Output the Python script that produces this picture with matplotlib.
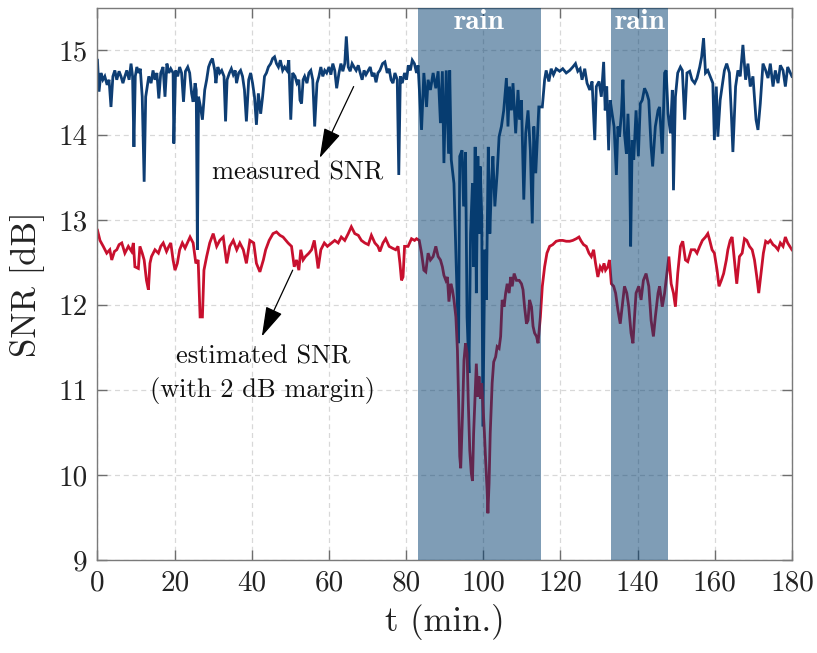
import matplotlib
matplotlib.use("Agg")
import matplotlib.pyplot as plt

# ---- data -------------------------------------------------------------
measured_t = [
    0.0, 0.4, 0.9, 1.4, 1.9, 2.5, 3.0, 3.5, 4.0, 4.5,
    5.0, 5.6, 6.1, 6.6, 7.1, 7.6, 8.2, 8.7, 9.1, 9.45,
    9.8, 10.2, 10.7, 11.1, 11.6, 12.1, 12.5, 12.9, 13.3, 13.9,
    14.4, 14.9, 15.4, 15.9, 16.4, 17.0, 17.5, 18.0, 18.5, 19.0,
    19.6, 19.8, 20.25, 20.8, 21.3, 21.8, 22.3, 22.8, 23.4, 23.9,
    24.4, 24.8, 25.3, 25.6, 25.9, 26.2, 26.7, 27.2, 27.8, 28.3,
    28.8, 29.3, 29.8, 30.4, 30.7, 31.2, 31.7, 32.2, 32.8, 33.2,
    33.6, 34.2, 34.7, 35.2, 35.7, 36.05, 36.6, 37.1, 37.6, 38.1,
    38.6, 39.2, 39.7, 40.2, 40.7, 41.2, 41.7, 42.3, 42.8, 43.3,
    43.8, 44.3, 44.9, 45.4, 45.9, 46.4, 46.9, 47.4, 48.0, 48.5,
    49.1, 49.6, 50.1, 50.6, 51.2, 51.7, 52.2, 52.5, 52.9, 53.3,
    53.7, 54.3, 54.8, 55.3, 55.8, 56.3, 56.9, 57.4, 57.9, 58.4,
    58.9, 59.4, 60.0, 60.5, 61.0, 61.5, 62.0, 62.6, 63.1, 63.6,
    64.1, 64.5, 65.0, 65.5, 66.0, 66.5, 67.05, 67.6, 68.1, 68.6,
    69.1, 69.6, 70.2, 70.7, 71.2, 71.7, 72.2, 72.7,
    73.2, 73.9, 74.5, 75.1, 75.6, 76.1, 76.6, 77.1, 77.7, 78.1,
    78.5, 79.0, 79.6, 80.1, 80.6, 81.1, 81.6, 82.15, 82.7,
    83.1, 84.0, 84.6, 85.3, 85.7, 86.3, 87.0, 87.7, 88.3, 88.9,
    89.4, 89.8, 90.4, 91.0, 91.3, 91.7, 92.4, 93.0, 93.6, 93.9,
    94.5, 94.9, 95.4, 95.8, 96.3, 96.7, 97.2, 97.5, 97.9, 98.2,
    98.6, 98.9, 99.2, 99.6, 99.9, 100.4, 100.8, 101.3, 101.7, 102.1,
    102.5, 103.0, 103.6, 104.1, 104.7, 105.3, 106.0, 106.4, 106.8, 107.3,
    107.7, 108.4, 109.0, 109.4, 109.9, 110.5, 111.0, 111.6, 112.2, 112.7,
    113.1, 113.6, 114.0, 114.4,
    115.3, 115.9, 116.3, 117.0, 117.6, 118.2, 118.9, 119.8, 120.6, 121.5,
    122.4, 123.2, 123.9, 124.5, 125.1, 125.6, 126.3, 126.9, 127.6, 128.2,
    128.9, 129.3, 130.0, 130.6, 131.2, 131.6, 132.0, 132.5, 132.9, 133.4,
    133.9, 134.5, 134.9, 135.3, 135.8, 136.2, 136.6, 137.1, 137.5, 137.9,
    138.2, 138.6, 139.0, 139.6, 140.2, 140.7, 141.2, 141.8, 142.4, 142.9,
    143.5, 143.9, 144.6, 145.3,
    145.7, 146.4, 147.0, 147.4, 147.9, 148.5, 149.0, 149.3, 149.8, 150.4,
    151.1, 151.6, 152.2, 152.8, 153.5, 154.1, 154.8, 155.4, 156.1, 156.6,
    157.1, 157.6, 158.2, 158.8, 159.5, 159.9, 160.4, 160.8, 161.4, 161.9,
    162.5, 163.1, 163.8, 164.3, 164.7, 165.4, 166.0, 166.6, 167.3, 168.0,
    168.6, 169.2, 169.9, 170.7, 171.2, 171.8, 172.5, 173.2, 173.8, 174.4,
    175.1, 175.7, 176.4, 177.0, 177.7, 178.3, 178.9, 180.0,
]
measured_db = [
    14.88, 14.51, 14.73, 14.65, 14.69, 14.59, 14.65, 14.33, 14.69, 14.76,
    14.65, 14.75, 14.69, 14.61, 14.69, 14.76, 14.65, 14.84, 14.69, 13.86,
    14.69, 14.80, 14.73, 14.78, 14.45, 13.45, 14.45, 14.57, 14.69, 14.61,
    14.76, 14.65, 14.73, 14.43, 14.73, 14.80, 14.45, 14.84, 14.73, 14.78,
    14.73, 13.90, 14.76, 14.69, 14.80, 14.73, 14.39, 14.75, 14.80, 14.73,
    14.49, 14.39, 14.61, 14.53, 12.65, 14.45, 14.33, 14.18, 14.53, 14.65,
    14.80, 14.86, 14.90, 14.76, 14.61, 14.80, 14.73, 14.76, 14.69, 14.16,
    14.65, 14.73, 14.78, 14.71, 14.76, 14.61, 14.73, 14.76, 14.69, 14.53,
    14.16, 14.65, 14.73, 14.61, 14.45, 14.12, 14.49, 14.25, 14.45, 14.69,
    14.73, 14.80, 14.84, 14.90, 14.92, 14.84, 14.80, 14.88, 14.76, 14.80,
    14.76, 14.88, 14.18, 14.73, 14.69, 14.61, 14.65, 14.41, 14.37, 14.65,
    14.69, 14.61, 14.73, 14.76, 14.65, 14.10, 14.61, 14.69, 14.80, 14.69,
    14.76, 14.73, 14.80, 14.71, 14.84, 14.76, 14.55, 14.73, 14.84, 14.75,
    14.84, 15.16, 14.80, 14.75, 14.84, 14.80, 14.76, 14.82, 14.73, 14.65,
    14.76, 14.71, 14.76, 14.80, 14.69, 14.73, 14.62, 14.73,
    14.76, 14.84, 14.86, 14.73, 14.78, 14.65, 14.61, 14.73, 14.65, 13.53,
    14.69, 14.61, 14.73, 14.65, 14.82, 14.76, 14.88, 14.84, 14.73,
    14.82, 14.06, 14.73, 14.33, 14.65, 14.53, 14.73, 14.55, 14.75, 14.14,
    14.75, 13.67, 14.76, 13.78, 14.76, 13.71, 13.43, 12.45, 11.55, 13.75,
    13.82, 13.16, 13.80, 11.86, 11.20, 12.84, 13.43, 12.45, 13.86, 12.14,
    13.75, 12.84, 13.63, 13.04, 10.57, 12.65, 12.06, 13.86, 12.84, 13.39,
    13.75, 13.16, 13.55, 13.98, 14.10, 14.29, 14.67, 14.10, 14.57, 14.29,
    14.61, 14.02, 14.53, 14.18, 14.41, 13.24, 14.02, 14.29, 13.82, 12.96,
    14.10, 13.55, 13.94, 14.33,
    14.33, 14.65, 14.76, 14.63, 14.78, 14.71, 14.78, 14.75, 14.78, 14.73,
    14.76, 14.80, 14.84, 14.75, 14.78, 14.65, 14.78, 14.61, 14.53, 14.63,
    13.94, 14.57, 14.63, 14.45, 14.86, 14.29, 14.57, 13.82, 14.41, 14.25,
    14.10, 13.53, 14.10, 13.98, 14.25, 14.65, 14.02, 13.78, 14.25, 13.78,
    12.69, 13.94, 13.71, 14.29, 13.75, 14.37, 14.41, 14.55, 14.49, 14.41,
    13.86, 13.63, 14.10, 14.29,
    14.33, 13.78, 14.73, 14.76, 14.25, 14.02, 14.53, 13.35, 14.45, 14.73,
    14.80, 14.76, 14.18, 14.73, 14.75, 14.65, 14.61, 14.67, 14.80, 14.92,
    15.14, 14.73, 14.76, 14.69, 14.61, 13.94, 14.57, 13.98, 14.41, 14.57,
    14.76, 14.84, 14.73, 14.25, 13.80, 14.57, 14.76, 14.69, 15.06, 14.65,
    14.84, 14.57, 14.69, 14.18, 14.06, 14.37, 14.84, 14.76, 14.67, 14.84,
    14.57, 14.76, 14.61, 14.82, 14.76, 14.57, 14.80, 14.69,
]

estimated_t = [
    0.0, 0.65, 1.5, 2.4, 3.2, 3.7, 4.4, 5.0, 5.6, 6.3,
    7.1, 8.0, 8.85, 9.3, 9.7, 10.6, 11.0, 11.6, 12.1, 12.7,
    13.2, 13.6, 14.0, 14.9, 15.8, 16.4, 17.05, 17.9, 18.5, 19.0,
    19.6, 20.1, 20.7, 21.3, 22.0, 22.7, 23.5,
    24.0, 24.8, 25.5, 26.1, 26.6, 27.2, 27.6, 28.3, 29.1, 30.0,
    30.9, 31.7, 32.6, 33.5, 34.3, 35.2, 36.1, 36.9, 37.8, 38.6,
    39.5, 40.5, 41.2, 42.1, 43.0, 43.6, 44.5, 45.5, 46.4, 47.3,
    48.1,
    49.4, 50.3, 51.0, 51.6, 52.2, 52.7, 53.3, 53.9, 54.8, 55.5,
    56.2, 56.8, 57.2, 57.9, 58.8, 59.6, 60.7, 61.5, 62.4, 63.2,
    64.1, 65.0, 65.8, 66.7, 67.6, 68.4, 69.3, 70.2, 71.0, 71.9,
    72.7,
    73.2, 74.0, 74.7, 75.6, 76.4, 77.3, 77.9, 78.4, 78.8, 79.2,
    79.6, 80.5, 81.4, 82.2,
    82.7, 83.4, 84.0, 84.6, 85.1, 85.7, 86.3, 87.0, 87.7, 88.3,
    88.9, 89.4, 89.8, 90.3, 90.7, 91.1, 91.6, 92.0, 92.4, 92.9,
    93.3, 93.6, 93.9, 94.15, 94.6, 95.0, 95.4, 95.8, 96.1, 96.5,
    96.9, 97.2, 97.5, 97.9, 98.2, 98.6, 98.9, 99.25, 99.6, 99.9,
    100.3, 100.6, 101.0, 101.2, 101.5, 101.8, 102.3, 102.7, 103.2, 103.6,
    104.1, 104.5, 104.9, 105.4, 105.8, 106.2, 106.7, 107.1, 107.5, 108.0,
    108.6, 109.3, 109.9, 110.3, 110.7, 111.2, 111.6, 112.0, 112.5, 112.9,
    113.3, 113.8, 114.2,
    114.8, 115.3, 115.9, 116.5, 117.2, 118.0, 118.9, 119.8, 120.6, 121.5,
    122.4, 123.2, 124.1, 124.8, 125.4, 126.0, 126.7, 127.4, 128.0, 128.6,
    129.1, 129.7, 130.3, 130.8, 131.3, 131.7, 132.3, 132.7, 133.2, 133.8,
    134.3, 134.9, 135.5, 136.0, 136.6, 137.2, 137.7, 138.3, 138.8, 139.2,
    139.6, 140.3, 140.9, 141.5, 142.2, 142.9, 143.5, 144.1, 144.6, 145.3,
    145.7, 146.4, 147.0, 147.6, 148.1, 148.7, 149.3, 149.8, 150.4, 151.1,
    151.7, 152.4, 153.0, 153.9, 154.8, 155.4, 156.1, 156.8, 157.6, 158.2,
    158.7, 159.3, 159.9, 160.6, 161.1, 161.7, 162.3, 163.0, 163.4, 164.0,
    164.5, 165.1, 165.7, 166.4, 167.1, 167.7, 168.3, 169.0, 169.7, 170.3,
    170.9, 171.4, 172.0, 172.6, 173.2, 173.8, 174.4, 175.1, 175.7, 176.4,
    177.0, 177.7, 178.3, 178.9, 180.0,
]
estimated_db = [
    12.88, 12.76, 12.69, 12.61, 12.65, 12.53, 12.63, 12.65, 12.71, 12.73,
    12.61, 12.69, 12.63, 12.73, 12.45, 12.43, 12.69, 12.61, 12.53, 12.29,
    12.18, 12.49, 12.57, 12.65, 12.61, 12.69, 12.73, 12.63, 12.69, 12.73,
    12.53, 12.41, 12.49, 12.65, 12.73, 12.67, 12.75,
    12.80, 12.73, 12.49, 12.53, 11.86, 11.86, 12.41, 12.57, 12.73, 12.84,
    12.69, 12.76, 12.80, 12.49, 12.69, 12.76, 12.65, 12.73, 12.65, 12.49,
    12.76, 12.73, 12.49, 12.39, 12.53, 12.65, 12.76, 12.84, 12.86, 12.82,
    12.80,
    12.73, 12.69, 12.45, 12.53, 12.41, 12.65, 12.53, 12.57, 12.61, 12.65,
    12.76, 12.57, 12.43, 12.65, 12.73, 12.69, 12.73, 12.76, 12.73, 12.80,
    12.76, 12.84, 12.92, 12.84, 12.82, 12.76, 12.73, 12.71, 12.82, 12.73,
    12.69,
    12.63, 12.73, 12.78, 12.69, 12.67, 12.65, 12.69, 12.49, 12.29, 12.33,
    12.69, 12.69, 12.78, 12.76,
    12.78, 12.76, 12.61, 12.41, 12.39, 12.61, 12.53, 12.57, 12.69, 12.57,
    12.53, 12.45, 12.35, 12.29, 12.33, 12.04, 12.25, 12.18, 12.06, 11.86,
    11.47, 10.88, 10.22, 10.08, 10.69, 11.35, 11.55, 11.43, 10.88, 10.29,
    10.02, 9.93, 10.49, 10.96, 11.31, 10.92, 11.16, 10.90, 11.08, 10.84,
    10.49, 10.18, 9.82, 9.55, 9.90, 10.49, 11.08, 11.33, 11.39, 11.51,
    11.49, 11.63, 12.06, 11.98, 12.14, 12.25, 12.14, 12.33, 12.22, 12.37,
    12.29, 12.29, 12.25, 12.18, 11.98, 11.78, 11.82, 12.06, 11.98, 11.75,
    11.67, 11.63, 11.55,
    11.86, 12.22, 12.45, 12.61, 12.69, 12.71, 12.75, 12.76, 12.76, 12.75,
    12.75, 12.76, 12.78, 12.80, 12.75, 12.71, 12.69, 12.61, 12.57, 12.65,
    12.49, 12.33, 12.45, 12.41, 12.49, 12.41, 12.45, 12.53, 12.25, 12.22,
    12.14, 11.94, 11.78, 11.98, 12.22, 12.14, 11.98, 11.67, 11.55, 11.86,
    12.14, 12.22, 12.06, 12.29, 12.37, 12.22, 11.82, 11.63, 11.86, 12.14,
    12.22, 11.98, 12.14, 12.37, 12.57, 12.25, 12.14, 11.98, 12.37, 12.69,
    12.75, 12.53, 12.51, 12.65, 12.65, 12.61, 12.69, 12.76, 12.80, 12.84,
    12.76, 12.65, 12.61, 12.41, 12.22, 12.29, 12.37, 12.53, 12.65, 12.76,
    12.80, 12.53, 12.25, 12.57, 12.61, 12.78, 12.76, 12.69, 12.65, 12.53,
    12.33, 12.14, 12.37, 12.61, 12.75, 12.73, 12.76, 12.71, 12.69, 12.65,
    12.73, 12.69, 12.80, 12.73, 12.65,
]

rain_start = [83, 133]
rain_end = [115, 148]

x_ticks = [0, 20, 40, 60, 80, 100, 120, 140, 160, 180]
y_ticks = [9, 10, 11, 12, 13, 14, 15]

assert len(measured_t) == len(measured_db)
assert len(estimated_t) == len(estimated_db)

# ---- style ------------------------------------------------------------
plt.rcParams["font.family"] = "cmr10"
plt.rcParams["mathtext.fontset"] = "cm"
plt.rcParams["axes.formatter.use_mathtext"] = True

blue = "#0e3e74"
red = "#c8102e"
band = (0.0, 0.235, 0.43)

fig = plt.figure(figsize=(8.17, 6.53), dpi=100)
ax = fig.add_axes([0.1193, 0.1424, 0.8500, 0.8461])

ax.plot(measured_t, measured_db, color=blue, lw=2.0, zorder=2,
        solid_joinstyle="miter")
ax.plot(estimated_t, estimated_db, color=red, lw=2.0, zorder=2,
        solid_joinstyle="miter")

for s, e in zip(rain_start, rain_end):
    ax.axvspan(s, e, color=band, alpha=0.5, lw=0, zorder=3)
    ax.text((s + e) / 2, 15.33, "rain", color="white", fontsize=21,
            family="cmb10", ha="center", va="center", zorder=4)

# annotations
arrow_style = "-|>,head_length=0.85,head_width=0.25"
ax.annotate("", xy=(57.6, 13.73), xytext=(66.4, 14.57),
            arrowprops=dict(arrowstyle=arrow_style, color="black", lw=0.9,
                            shrinkA=0, shrinkB=0, mutation_scale=22),
            zorder=5)
ax.text(52.0, 13.56, "measured SNR", fontsize=19, ha="center",
        va="center", color="#111111", zorder=5)

ax.annotate("", xy=(42.6, 11.63), xytext=(50.6, 12.41),
            arrowprops=dict(arrowstyle=arrow_style, color="black", lw=0.9,
                            shrinkA=0, shrinkB=0, mutation_scale=22),
            zorder=5)
ax.text(42.9, 11.39, "estimated SNR", fontsize=19, ha="center",
        va="center", color="#111111", zorder=5)
ax.text(42.9, 10.99, "(with 2 dB margin)", fontsize=19, ha="center",
        va="center", color="#111111", zorder=5)

# axes
ax.set_xlim(0, 180)
ax.set_ylim(9, 15.5)
ax.set_xticks(x_ticks)
ax.set_yticks(y_ticks)
ax.set_xticklabels([str(v) for v in x_ticks])
ax.set_yticklabels([str(v) for v in y_ticks])
ax.tick_params(direction="in", length=7, width=1, top=True, right=True,
               labelsize=21, colors="#6e6e6e", labelcolor="#222222", pad=7)
for sp in ax.spines.values():
    sp.set_color("#7a7a7a")
    sp.set_linewidth(1.0)
ax.grid(True, color="#d8d8d8", lw=0.9, ls=(0, (4, 3)), zorder=0)
ax.set_axisbelow(True)

ax.set_xlabel("t (min.)", fontsize=25, color="#222222", labelpad=6)
ax.set_ylabel("SNR [dB]", fontsize=25, color="#222222", labelpad=10)

fig.savefig("out.png", dpi=100)
